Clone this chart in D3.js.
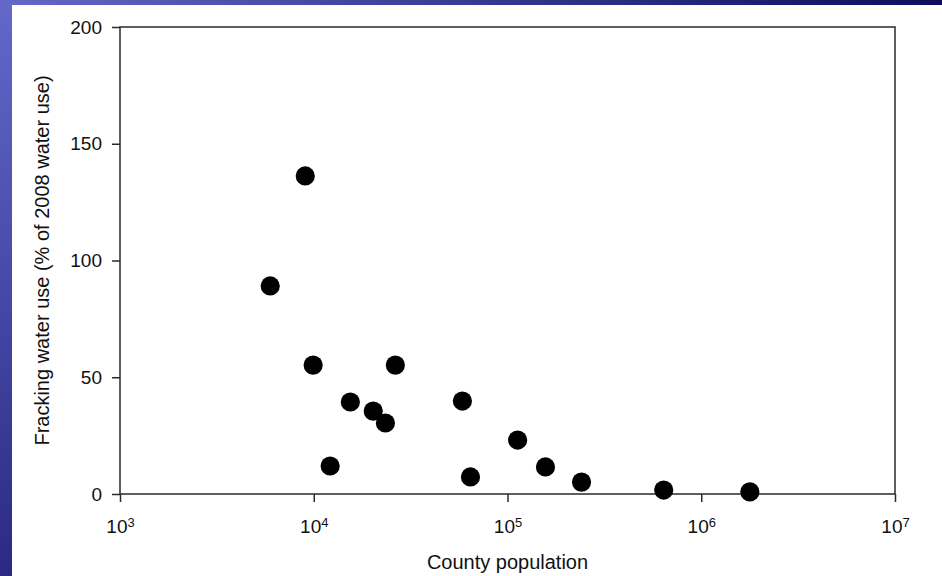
<!DOCTYPE html>
<html>
<head>
<meta charset="utf-8">
<script src="https://cdn.jsdelivr.net/npm/d3@7"></script>
<style>
  body { margin: 0; padding: 0; background: #fff; }
  svg text { font-family: "Liberation Sans", Arial, sans-serif; fill: #111; }
  .axis path, .axis line { stroke: #2a2a2a; stroke-width: 1.5; }
</style>
</head>
<body>
<div id="chart"></div>
<script>
// County population vs fracking water use
const population = [5960, 9040, 9930, 12150, 15450, 20280, 23440, 26370, 58500, 64400, 112800, 157000, 241000, 640000, 1782000];
const waterUse = [89.1, 136.2, 55.2, 12.0, 39.4, 35.5, 30.4, 55.2, 39.8, 7.3, 23.1, 11.6, 5.1, 1.7, 0.9];

const xTicks = [1e3, 1e4, 1e5, 1e6, 1e7];
const yTicks = [0, 50, 100, 150, 200];

const W = 942, H = 576;
const margin = {top: 27, right: 47, bottom: 82, left: 120};
const width = W - margin.left - margin.right;
const height = H - margin.top - margin.bottom;

const root = d3.select("#chart").append("svg")
  .attr("width", W)
  .attr("height", H);

// slide background strips
const defs = root.append("defs");
const gLeft = defs.append("linearGradient").attr("id", "gLeft")
  .attr("x1", 0).attr("y1", 0).attr("x2", 0).attr("y2", 1);
gLeft.append("stop").attr("offset", 0).attr("stop-color", "#6368c9");
gLeft.append("stop").attr("offset", 1).attr("stop-color", "#2a2a84");
const gTop = defs.append("linearGradient").attr("id", "gTop")
  .attr("x1", 0).attr("y1", 0).attr("x2", 1).attr("y2", 0);
gTop.append("stop").attr("offset", 0).attr("stop-color", "#6368c9");
gTop.append("stop").attr("offset", 1).attr("stop-color", "#0d0d5c");

root.append("rect").attr("x", 0).attr("y", 0).attr("width", 12).attr("height", H).attr("fill", "url(#gLeft)");
root.append("rect").attr("x", 0).attr("y", 0).attr("width", W).attr("height", 5).attr("fill", "url(#gTop)");

const svg = root.append("g")
  .attr("transform", `translate(${margin.left},${margin.top})`);

const xScale = d3.scaleLog().domain([1e3, 1e7]).range([0, width]);
const yScale = d3.scaleLinear().domain([0, 200]).range([height, 0]);

// frame
svg.append("rect")
  .attr("x", 0).attr("y", 0)
  .attr("width", width).attr("height", height)
  .attr("fill", "none")
  .attr("stroke", "#2a2a2a")
  .attr("stroke-width", 1.5);

// x axis
const xAxis = svg.append("g")
  .attr("class", "axis")
  .attr("transform", `translate(0,${height})`)
  .call(d3.axisBottom(xScale).tickValues(xTicks).tickSize(8).tickSizeOuter(0).tickPadding(14).tickFormat(""));
xAxis.select(".domain").remove();
xAxis.selectAll(".tick text").each(function(d) {
  const t = d3.select(this)
    .attr("font-size", 19)
    .attr("dy", "0.9em")
    .attr("fill", "#111");
  t.append("tspan").text("10");
  t.append("tspan").attr("dy", "-0.45em").attr("font-size", 13).text(Math.round(Math.log10(d)));
});

// y axis
const yAxis = svg.append("g")
  .attr("class", "axis")
  .call(d3.axisLeft(yScale).tickValues(yTicks).tickSize(8).tickSizeOuter(0).tickPadding(10));
yAxis.select(".domain").remove();
yAxis.selectAll(".tick text")
  .attr("font-size", 19)
  .attr("fill", "#111")
  .style("font-family", "Liberation Sans, Arial, sans-serif");

// points
svg.selectAll("circle")
  .data(population.map((p, i) => ({p, v: waterUse[i]})))
  .join("circle")
  .attr("cx", d => xScale(d.p))
  .attr("cy", d => yScale(d.v))
  .attr("r", 9.6)
  .attr("fill", "#000");

// labels
svg.append("text")
  .attr("x", width / 2)
  .attr("y", height + 75)
  .attr("text-anchor", "middle")
  .attr("font-size", 20)
  .text("County population");

svg.append("text")
  .attr("transform", `translate(${-71},${height / 2}) rotate(-90)`)
  .attr("text-anchor", "middle")
  .attr("font-size", 20)
  .text("Fracking water use (% of 2008 water use)");
</script>
</body>
</html>
